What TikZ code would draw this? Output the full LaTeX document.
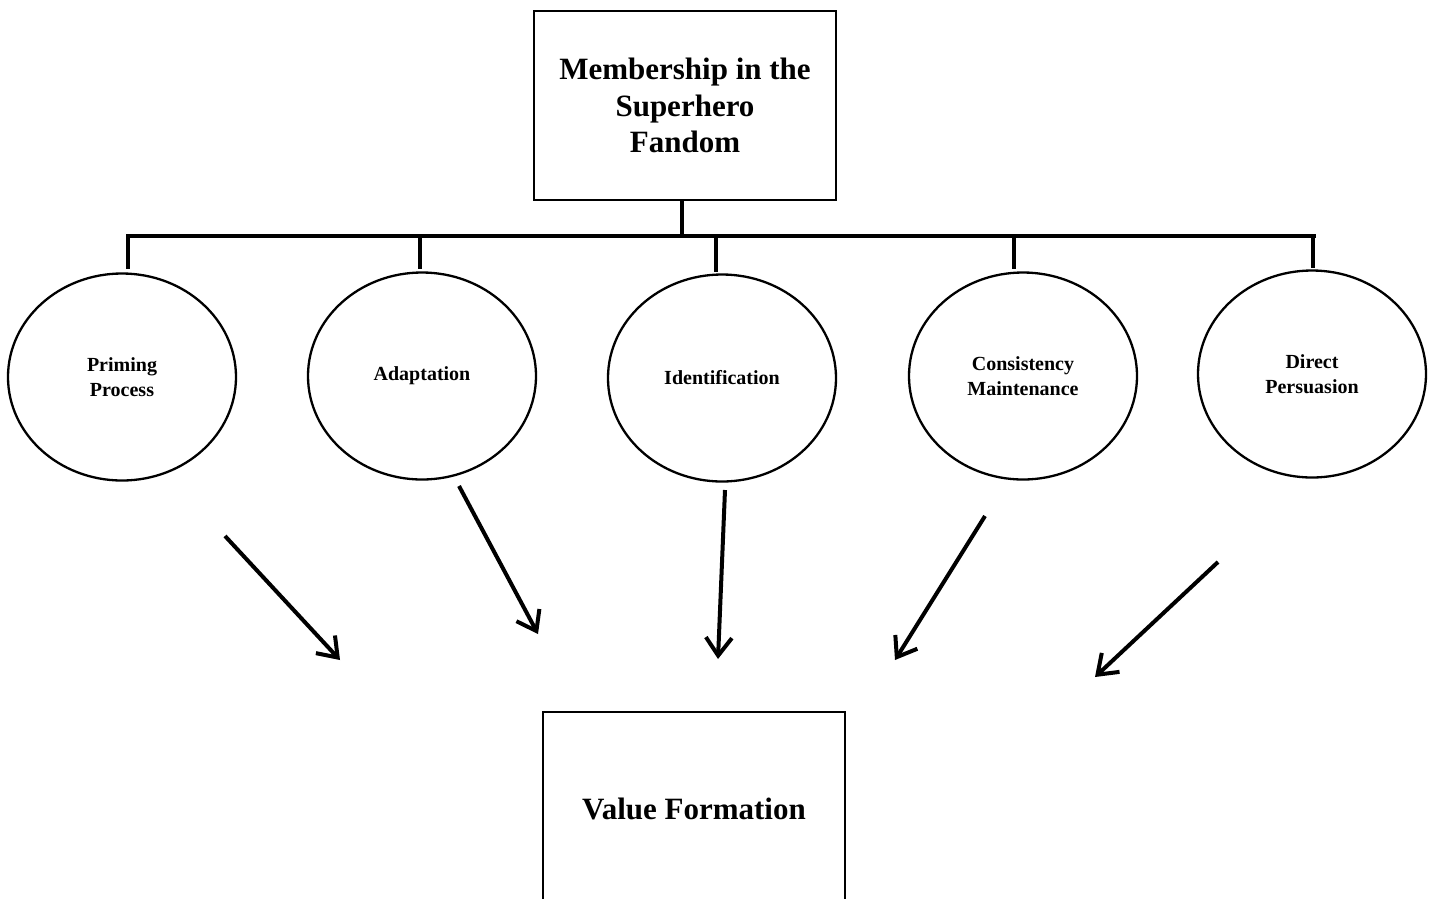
\documentclass[tikz,border=0pt]{standalone}
\usepackage{fontspec}
\setmainfont{Liberation Serif}
\usetikzlibrary{arrows.meta,shapes.geometric}
\tikzset{
  bigbox/.style={draw=black, line width=2.5pt, rectangle, minimum width=302pt, inner sep=0pt, align=center,
    font=\bfseries\fontsize{31}{36.5}\selectfont},
  oval/.style={draw=black, line width=2.3pt, ellipse, minimum width=228pt, minimum height=207pt, inner sep=0pt,
    align=center, font=\bfseries\fontsize{20}{24.5}\selectfont},
  treeline/.style={line width=4pt},
  flow/.style={line width=4pt, -{Straight Barb[length=18pt,width=26pt]}}
}
\begin{document}
\begin{tikzpicture}[x=1pt,y=-1pt]
\useasboundingbox (0,0) rectangle (1432,898);
\fill[white] (0,0) rectangle (1432,898);
\begin{scope}
\clip (0,0) rectangle (1432,898);
% top box
\node[bigbox, minimum height=189pt] (top) at (685,105.5) {Membership in the\\Superhero\\Fandom};
% tree
\coordinate (j) at (682,236);
\coordinate (bl) at (128,236);
\coordinate (br) at (1314,236);
\node[oval] (e1) at (122,377) {Priming\\Process};
\node[oval] (e2) at (422,376) {\raisebox{-4pt}{Adaptation}};
\node[oval] (e3) at (722,378) {Identification};
\node[oval] (e4) at (1023,376) {Consistency\\Maintenance};
\node[oval] (e5) at (1312,374) {Direct\\Persuasion};
\draw[treeline] (j |- top.south) -- (j);
\draw[treeline, line cap=rect] (bl) -- (br);
\coordinate (d1) at (128,236); \coordinate (d1e) at (128,269);
\coordinate (d2) at (420,236); \coordinate (d2e) at (420,269);
\coordinate (d3) at (716,236); \coordinate (d3e) at (716,272);
\coordinate (d4) at (1014,236); \coordinate (d4e) at (1014,269);
\coordinate (d5) at (1313,236); \coordinate (d5e) at (1313,268);
\draw[treeline] (d1) -- (d1e);
\draw[treeline] (d2) -- (d2e);
\draw[treeline] (d3) -- (d3e);
\draw[treeline] (d4) -- (d4e);
\draw[treeline] (d5) -- (d5e);
% arrows
\coordinate (a1s) at (225,536); \coordinate (a1e) at (340,660);
\coordinate (a2s) at (459,486); \coordinate (a2e) at (538,634);
\coordinate (a3s) at (725,490); \coordinate (a3e) at (718,659);
\coordinate (a4s) at (985,516); \coordinate (a4e) at (895,660);
\coordinate (a5s) at (1218,562); \coordinate (a5e) at (1095,677);
\draw[flow] (a1s) -- (a1e);
\draw[flow] (a2s) -- (a2e);
\draw[flow] (a3s) -- (a3e);
\draw[flow] (a4s) -- (a4e);
\draw[flow] (a5s) -- (a5e);
% bottom box
\node[bigbox, minimum height=194pt] (vf) at (694,809) {Value Formation};
\end{scope}
\end{tikzpicture}
\end{document}
